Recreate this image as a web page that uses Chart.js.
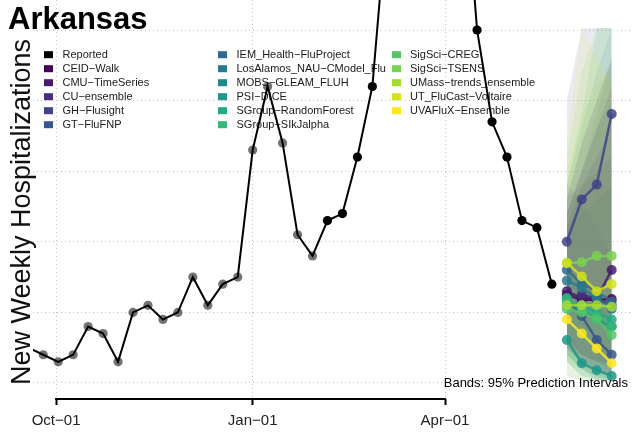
<!DOCTYPE html>
<html>
<head>
<meta charset="utf-8">
<script src="https://cdn.jsdelivr.net/npm/chart.js@4.4.1/dist/chart.umd.min.js"></script>
<style>
  html, body { margin: 0; padding: 0; background: #fff; }
  #wrap { width: 632px; height: 432px; }
</style>
</head>
<body>
<div id="wrap"><canvas id="myChart" width="632" height="432"></canvas></div>
<script>
// observed weekly hospitalizations (Saturdays)
const obsDates = [
  "2021-09-18", "2021-09-25", "2021-10-02", "2021-10-09", "2021-10-16", "2021-10-23",
  "2021-10-30", "2021-11-06", "2021-11-13", "2021-11-20", "2021-11-27", "2021-12-04",
  "2021-12-11", "2021-12-18", "2021-12-25", "2022-01-01", "2022-01-08", "2022-01-15",
  "2022-01-22", "2022-01-29", "2022-02-05", "2022-02-12", "2022-02-19", "2022-02-26",
  "2022-03-05", "2022-03-12", "2022-03-19", "2022-03-26", "2022-04-02", "2022-04-09",
  "2022-04-16", "2022-04-23", "2022-04-30", "2022-05-07", "2022-05-14", "2022-05-21"
];
const obsValues = [5, 4, 3, 4, 8, 7, 3, 10, 11, 9, 10, 15, 11, 14, 15, 33, 42, 34,
  21, 18, 23, 24, 32, 42, 67, 78, 86, 89, 85, 77, 50, 37, 32, 23, 22, 14];
const obsGrayCount = 20; // first points are drawn grey

const fcDates = ["2022-05-28", "2022-06-04", "2022-06-11", "2022-06-18"];
const models = [
  "CEID−Walk", "CMU−TimeSeries", "CU−ensemble", "GH−Flusight", "GT−FluFNP",
  "IEM_Health−FluProject", "LosAlamos_NAU−CModel_Flu", "MOBS−GLEAM_FLUH", "PSI−DICE",
  "SGroup−RandomForest", "SGroup−SIkJalpha", "SigSci−CREG", "SigSci−TSENS",
  "UMass−trends_ensemble", "UT_FluCast−Voltaire", "UVAFluX−Ensemble"
];
// medians, one row per model
const fcMedian = [
  [12.5, 11.8, 11.8, 11.9],
  [13.0, 12.0, 12.0, 16.0],
  [12.0, 12.5, 12.0, 11.0],
  [20.0, 26.0, 28.1, 38.1],
  [12.0, 9.5, 6.1, 4.0],
  [16.0, 14.1, 13.0, 11.5],
  [14.5, 13.5, 12.0, 10.5],
  [11.0, 10.5, 9.0, 8.0],
  [6.1, 2.8, 1.8, 1.0],
  [11.5, 11.0, 10.0, 9.0],
  [12.0, 10.5, 9.5, 8.0],
  [10.5, 10.0, 9.0, 6.8],
  [17.0, 17.1, 18.0, 18.0],
  [11.0, 11.0, 11.0, 10.8],
  [17.0, 15.1, 13.0, 14.0],
  [9.0, 7.0, 4.9, 2.8]
];
// 95% interval bounds
const fcLower = [
  [5, 3, 2, 1], [6, 4, 3, 3], [5, 3, 2, 1], [10, 12, 12, 15],
  [4, 2, 0.5, 0.3], [6, 4, 3, 2], [6, 4, 3, 2], [3, 1, 0.5, 0.3],
  [1, 0.3, 0.3, 0.3], [4, 2, 1, 0.5], [4, 2, 1, 0.5], [3, 1, 0.5, 0.3],
  [7, 6, 5, 4], [3, 2, 1, 0.5], [5, 4, 3, 3], [1, 0.5, 0.3, 0.3]
];
const fcUpper = [
  [26, 34, 40, 46], [24, 30, 36, 42], [22, 28, 32, 36], [40, 50.3, 50.3, 50.3],
  [28, 26, 22, 18], [26, 28, 30, 32], [28, 36, 44, 50.3], [24, 30, 36, 40],
  [16, 14, 12, 10], [22, 24, 26, 28], [28, 38, 50.3, 50.3], [24, 30, 38, 46],
  [32, 44, 50.3, 50.3], [30, 38, 42, 45], [34, 50.3, 46, 42], [22, 24, 28, 30]
];

const tickDates = ["2021-10-01", "2022-01-01", "2022-04-01"];
const tickLabels = ["Oct−01", "Jan−01", "Apr−01"];
const yGrid = [0, 10, 20, 30, 40, 50];

const viridis = ["#440154", "#481A6C", "#472F7D", "#414487", "#39568C", "#31688E",
  "#2A788E", "#23888E", "#1F988B", "#22A884", "#35B779", "#54C568", "#7AD151",
  "#A5DB36", "#D2E21B", "#FDE725"];
// stacking of the bands, bottom first, so the colours blend toward grey-green
const bandStack = [15, 7, 6, 9, 5, 10, 4, 11, 3, 12, 2, 13, 1, 14, 0, 8];

const FONT = "'Liberation Sans', Arial, Helvetica, sans-serif";
const origin = Date.UTC(2021, 9, 1);
const dayOf = (s) => (Date.parse(s + "T00:00:00Z") - origin) / 86400000;

function withAlpha(hex, a) {
  const n = parseInt(hex.slice(1), 16);
  return "rgba(" + (n >> 16) + "," + ((n >> 8) & 255) + "," + (n & 255) + "," + a + ")";
}

const datasets = [];

// observed line
datasets.push({
  label: "Reported",
  data: obsDates.map((d, i) => ({ x: dayOf(d), y: obsValues[i] })),
  borderColor: "#000",
  borderWidth: 2,
  pointRadius: 4.6,
  pointBorderWidth: 0,
  pointBackgroundColor: obsValues.map((v, i) => i < obsGrayCount ? "rgba(0,0,0,0.55)" : "#000"),
  order: 0
});

// forecast medians
models.forEach((m, k) => {
  datasets.push({
    label: m,
    data: fcDates.map((d, i) => ({ x: dayOf(d), y: fcMedian[k][i] })),
    borderColor: withAlpha(viridis[k], 0.85),
    backgroundColor: withAlpha(viridis[k], 0.85),
    borderWidth: 2.5,
    pointRadius: 5,
    pointBorderWidth: 0,
    order: 100 - k
  });
});

// prediction bands: lower edge + upper edge filled down to it
models.forEach((m, k) => {
  const lowIdx = datasets.length;
  const ord = 300 - bandStack.indexOf(k);
  datasets.push({
    label: m + " lo",
    data: fcDates.map((d, i) => ({ x: dayOf(d), y: fcLower[k][i] })),
    borderWidth: 0,
    pointRadius: 0,
    fill: false,
    order: ord
  });
  datasets.push({
    label: m + " hi",
    data: fcDates.map((d, i) => ({ x: dayOf(d), y: fcUpper[k][i] })),
    borderWidth: 0,
    pointRadius: 0,
    fill: lowIdx,
    backgroundColor: withAlpha(viridis[k], 0.11),
    order: ord
  });
});

const decor = {
  id: "decor",
  beforeDatasetsDraw(chart) {
    const ctx = chart.ctx;
    const cols = [[0, 6, 44, 62.5], [6, 12, 218, 236.5], [12, 17, 392, 410]];
    const names = ["Reported"].concat(models);
    const cols2 = ["#000"].concat(viridis);
    ctx.save();
    ctx.font = "11px " + FONT;
    ctx.textBaseline = "middle";
    ctx.textAlign = "left";
    cols.forEach(([a, b, sx, tx]) => {
      for (let i = a; i < b; i++) {
        const y = 54.7 + 14 * (i - a);
        ctx.fillStyle = cols2[i];
        ctx.fillRect(sx, y - 3.5, 9, 7);
        ctx.fillStyle = "#1a1a1a";
        ctx.fillText(names[i], tx, y + 0.5);
      }
    });
    ctx.restore();
  },
  afterDraw(chart) {
    const ctx = chart.ctx;
    const x = chart.scales.x;
    const area = chart.chartArea;
    ctx.save();
    // capped x axis line
    ctx.strokeStyle = "#000";
    ctx.lineWidth = 2;
    ctx.beginPath();
    ctx.moveTo(x.getPixelForValue(dayOf(tickDates[0])) - 1, area.bottom);
    ctx.lineTo(x.getPixelForValue(dayOf(tickDates[2])) + 1, area.bottom);
    ctx.stroke();

    ctx.fillStyle = "#000";
    ctx.font = "bold 31px " + FONT;
    ctx.textAlign = "left";
    ctx.textBaseline = "alphabetic";
    ctx.fillText("Arkansas", 8, 29);

    ctx.font = "13px " + FONT;
    ctx.textAlign = "right";
    ctx.fillText("Bands: 95% Prediction Intervals", 628, 387);

    ctx.translate(30, 212);
    ctx.rotate(-Math.PI / 2);
    ctx.font = "27px " + FONT;
    ctx.textAlign = "center";
    ctx.fillStyle = "#111";
    ctx.fillText("New Weekly Hospitalizations", 0, 0);
    ctx.restore();
  }
};

new Chart(document.getElementById("myChart"), {
  type: "line",
  data: { datasets: datasets },
  plugins: [decor],
  options: {
    responsive: false,
    animation: false,
    events: [],
    layout: { autoPadding: false, padding: { left: 33, right: 0, top: 0, bottom: 0 } },
    plugins: { legend: { display: false }, tooltip: { enabled: false } },
    elements: { line: { tension: 0 } },
    scales: {
      x: {
        type: "linear",
        min: -10.8,
        max: 269.5,
        afterBuildTicks: (s) => { s.ticks = tickDates.map((d) => ({ value: dayOf(d) })); },
        afterFit: (s) => { s.height = 33; },
        ticks: {
          autoSkip: false,
          maxRotation: 0,
          padding: 7,
          color: "#222",
          font: { family: FONT, size: 15 },
          callback: (v, i) => tickLabels[i]
        },
        grid: {
          color: "#c4c4c4",
          lineWidth: 1,
          drawTicks: true,
          tickLength: 6,
          tickColor: "#000",
          tickWidth: 2,
          tickBorderDash: []
        },
        border: { display: false, dash: [1, 3] }
      },
      y: {
        type: "linear",
        min: -2.27,
        max: 54.25,
        afterBuildTicks: (s) => { s.ticks = yGrid.map((v) => ({ value: v })); },
        afterFit: (s) => { s.width = 0; },
        ticks: { display: false },
        grid: { color: "#c4c4c4", lineWidth: 1, drawTicks: false },
        border: { display: false, dash: [1, 3] }
      }
    }
  }
});
</script>
</body>
</html>
